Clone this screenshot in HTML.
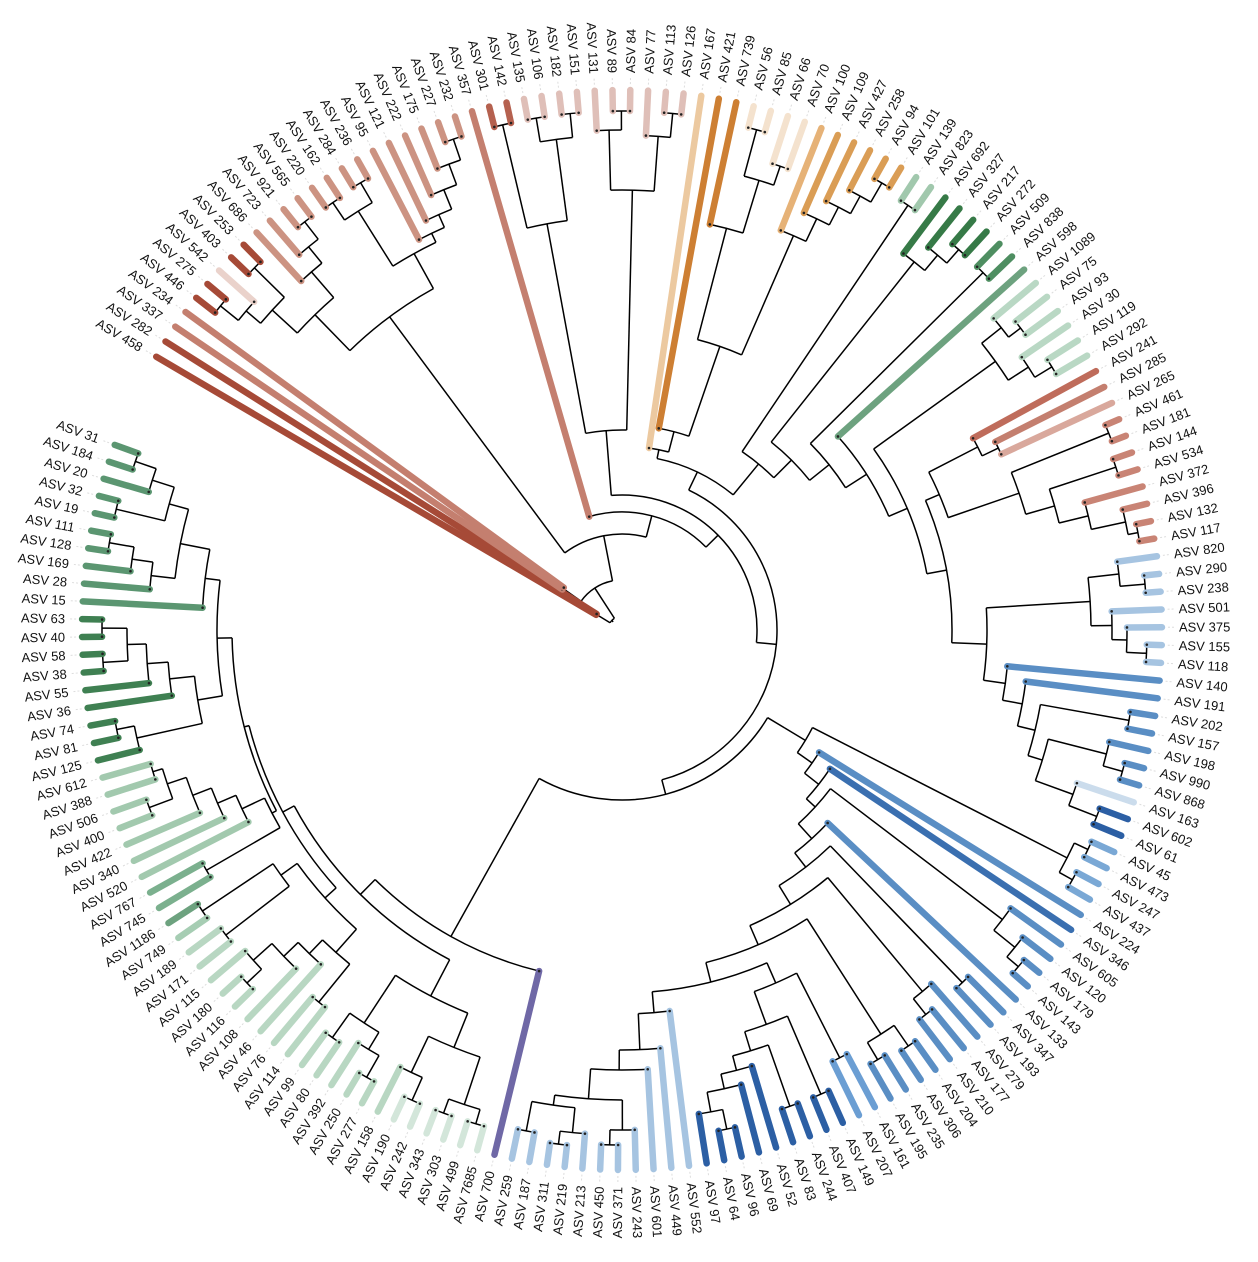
<!DOCTYPE html>
<html><head><meta charset="utf-8">
<style>
html,body{margin:0;padding:0;background:#fff;}
svg{display:block;}
text{font-family:"Liberation Sans",Arial,sans-serif;font-size:13px;fill:#111;}
</style></head>
<body>
<svg id="chart" width="1258" height="1262" viewBox="0 0 1258 1262" xmlns="http://www.w3.org/2000/svg">
<g id="branches"></g>
<g id="tips"></g>
<g id="labels"></g>
</svg>
<script>
// ---- data: tree topology with node depths (distance from root) ----
const REDC = [390,[440,[474,[493,[516,"446","275"],"542"],[516,"403","253"]],[474,"686",[495,"723",[517,"921","565"]]]],
  [430,[495,[516,"220","162"],[518,"284","236"]],[440,"95",[454,"121",[475,"222",[497,"175",[519,"227","232"]]]]]]];
const PINK = [200,[413,[519,"301","142"],[495,[519,"135","106"],[519,"182","151"]]],
  [440,[500,"131",[519,"89","84"]],[495,"77",[519,"113","126"]]]];
const ORANGE = [184,"167",[205,"421",[300,[415,"739",[470,[518,"56","85"],[490,"66","70"]]],[430,"100",[455,"109",[475,"427",[495,"258",[517,"94","101"]]]]]]]];
const RRED = [345,[400,"241",[418,"285","265"]],[420,[525,"461","181"],[450,[520,"144","534"],[480,"372",[515,"396",[525,"132","117"]]]]]];
const RBLUE = [365,[469,[500,"820",[525,"290","238"]],[490,"501",[505,"375",[525,"155","118"]]]],
  [387,"140",[407,"191",[425,[515,"202","157"],[440,[500,"198",[520,"990","868"]],[480,"163",[510,"602","61"]]]]]]];
const UPPER = [175,ORANGE,[215,[512,"139","823"],[240,[470,"692",[490,"327",[508,"217","272"]]],[265,[508,"509","838"],[290,"598",[310,[460,[485,"1089",[500,"75","93"]],[484,"30",[504,"119","292"]]],[330,RRED,RBLUE]]]]]]];
const DBG = [385,[480,"161","207"],[420,[505,"149","407"],[440,[505,"244","83"],[455,"52",[470,"69",[490,[510,"96","64"],"97"]]]]]];
const LBC = [384,"552",[420,"449",[440,"601",[470,[500,"243",[515,"371","450"]],[480,[505,"213",[518,"219","311"]],[510,"187","259"]]]]]];
const BRB = [190,[214,[500,[515,"45","473"],[515,"247","437"]],[232,"224",[250,"346",[262,[478,"605",[505,"120",[520,"179","143"]]],
  [282,"133",[300,[490,"347","193"],[322,[470,"279",[490,"177","210"]],[343,[480,[505,"204","306"],[500,"235","195"]],[363,DBG,LBC]]]]]]]]]];
const PALEB = [413,[450,[500,[515,"7685","499"],[515,"303","343"]],[490,[515,"242","190"],"158"]],[433,[470,[490,[515,"277","250"],"392"],[500,"80","99"]]]];
const GBL = [400,[431,[480,"114","76"],[450,"46",[470,"108",[495,[515,"116","180"],"115"]]]],[420,[500,"171","189"],[505,"749","1186"]]];
const LEFTLOW = [395,[480,"745","767"],[420,"520",[440,"340",[460,"422",[480,[505,"400","506"],[490,"388","612"]]]]]];
const DGC = [430,[497,"125",[515,"81","74"]],[455,"36",[476,"55",[495,[520,"38","58"],[520,"40","63"]]]]];
const G3C = [420,"15",[450,[474,"28",[495,"169",[520,"128","111"]]],[470,[520,"19","32"],[493,"20",[515,"184","31"]]]]];
const LOWERLEFT = [211,[351,"700",[372,PALEB,[385,GBL,[390,LEFTLOW,[405,DGC,G3C]]]]]];
const LOWER = [170,BRB,LOWERLEFT];
const TREE = [14,[30,"458","282"],[50,[72,"337","234"],[96,REDC,[118,"357",[135,PINK,[155,UPPER,LOWER]]]]]];

// ---- data: tip colour groups ----
const colorGroups = [
 ["#a64a37",["458","282","446","275","403","253"]],
 ["#c47f6f",["337","234","357","285"]],
 ["#ead2cb",["542"]],
 ["#cc9382",["686","723","921","565","220","162","284","236","95","121","222","175","227","232"]],
 ["#b5614f",["301","142"]],
 ["#dfbfb8",["135","106","182","151","131","89","84","77","113","126"]],
 ["#ecc9a0",["167"]],
 ["#cd7f33",["421","739"]],
 ["#f4e2ce",["56","85","66","70"]],
 ["#e6b277",["100"]],
 ["#da9d55",["109","427","258","94","101"]],
 ["#a1c8ad",["139","823"]],
 ["#367a47",["692","327","217","272"]],
 ["#4e8e61",["509","838"]],
 ["#6da27f",["598","1186"]],
 ["#b9d8c4",["1089","75","93","30","119","292"]],
 ["#bf6c5b",["241"]],
 ["#d9a89c",["265"]],
 ["#c98475",["461","181","144","534","372","396","132","117"]],
 ["#a6c4e1",["820","290","238","501","375","155","118","552","449","601","243","371","450","213","219","311","187","259"]],
 ["#5a8ec4",["140","191","202","157","198","990","868","224","605","120","179","143","133","347","193","279","177","210","204","306","235","195"]],
 ["#cbdcec",["163"]],
 ["#2c5fa4",["602","61","149","407","244","83","52","69","96","64","97"]],
 ["#7aa8d5",["45","473","247","437"]],
 ["#3a6fb0",["346"]],
 ["#6b9ed3",["161","207"]],
 ["#6f68a6",["700"]],
 ["#d3e6da",["7685","499","303","343","242","190"]],
 ["#b8d7c2",["158","277","250","392","80","99","114","76","46","108","116","180","115","171","189"]],
 ["#a6cdb3",["749"]],
 ["#7bb08e",["745","767"]],
 ["#a2c9ae",["520","340","422","400","506","388","612"]],
 ["#3f8052",["125","81","74","36","55","38","58","40","63"]],
 ["#5b9671",["15","28","169","128","111","19","32","20","184","31"]]
];

// ---- layout ----
const CX = 622, CY = 630, TIP = 540, LAB = 557, START = 210.4, STEP = 1.89;
const NS = "http://www.w3.org/2000/svg";
const colorOf = {};
colorGroups.forEach(g => g[1].forEach(n => colorOf[n] = g[0]));
const gB = document.getElementById("branches"), gT = document.getElementById("tips"), gL = document.getElementById("labels");
let leafIdx = 0;
function pt(r, a){ const t = a*Math.PI/180; return [CX + r*Math.cos(t), CY + r*Math.sin(t)]; }
function mk(tag, attrs, parent){ const e = document.createElementNS(NS, tag); for (const k in attrs) e.setAttribute(k, attrs[k]); parent.appendChild(e); return e; }

function layout(node){
  if (typeof node === "string"){
    const a = START + STEP*(leafIdx++);
    return {leaf:true, name:node, angle:a};
  }
  const r = node[0];
  const kids = node.slice(1).map(layout);
  const a = (kids[0].angle + kids[kids.length-1].angle)/2;
  return {leaf:false, r:r, kids:kids, angle:a};
}
const root = layout(TREE);

function draw(n){
  const a0 = n.kids[0].angle, a1 = n.kids[n.kids.length-1].angle;
  const p0 = pt(n.r, a0), p1 = pt(n.r, a1);
  const arc = mk("path", {d:`M${p0[0].toFixed(2)},${p0[1].toFixed(2)} A${n.r},${n.r} 0 ${(a1-a0)>180?1:0} 1 ${p1[0].toFixed(2)},${p1[1].toFixed(2)}`, fill:"none", stroke:"#000", "stroke-width":1.5}, gB);
  
  
  n.kids.forEach(k => {
    if (k.leaf){
      const s = pt(n.r, k.angle), e = pt(TIP, k.angle);
      const ln = mk("line", {x1:s[0].toFixed(2), y1:s[1].toFixed(2), x2:e[0].toFixed(2), y2:e[1].toFixed(2), stroke:colorOf[k.name]||"#888", "stroke-width":6.5, "stroke-linecap":"round"}, gT);
      
      
      const d = mk("circle", {cx:s[0].toFixed(2), cy:s[1].toFixed(2), r:1.3, fill:"#222"}, gT);
      
      
      const l1 = pt(TIP+6, k.angle), l2 = pt(LAB-3, k.angle);
      const ld = mk("line", {x1:l1[0].toFixed(2), y1:l1[1].toFixed(2), x2:l2[0].toFixed(2), y2:l2[1].toFixed(2), stroke:"#ddd", "stroke-width":1, "stroke-dasharray":"2,2"}, gB);
      
      
      const p = pt(LAB, k.angle);
      let a = ((k.angle % 360) + 360) % 360, rot = a, anchor = "start";
      if (a > 90 && a < 270){ rot = a - 180; anchor = "end"; }
      const t = mk("text", {x:p[0].toFixed(2), y:p[1].toFixed(2), "text-anchor":anchor, "dominant-baseline":"central", transform:`rotate(${rot.toFixed(2)} ${p[0].toFixed(2)} ${p[1].toFixed(2)})`}, gL);
      t.textContent = "ASV " + k.name;
      
      
    } else {
      const s = pt(n.r, k.angle), e = pt(k.r, k.angle);
      const ln = mk("line", {x1:s[0].toFixed(2), y1:s[1].toFixed(2), x2:e[0].toFixed(2), y2:e[1].toFixed(2), stroke:"#000", "stroke-width":1.5}, gB);
      
      
      draw(k);
    }
  });
}
// root edge
const r1 = pt(root.r, root.angle);
const rootEdge = mk("line", {x1:(CX-9), y1:(CY-8), x2:r1[0].toFixed(2), y2:r1[1].toFixed(2), stroke:"#000", "stroke-width":1.5}, gB);


draw(root);
</script>
</body></html>
